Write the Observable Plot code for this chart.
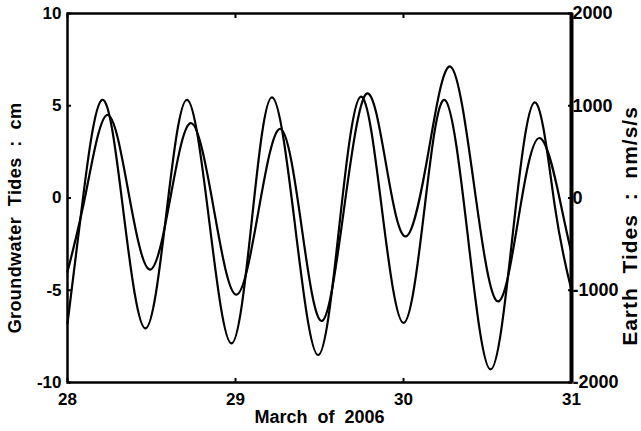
<!DOCTYPE html>
<html>
<head>
<meta charset="utf-8">
<script src="https://cdn.jsdelivr.net/npm/d3@7"></script>
<script src="https://cdn.jsdelivr.net/npm/@observablehq/plot@0.6"></script>
<style>
  html, body { margin: 0; padding: 0; background: #fff; }
  #chart svg { display: block; }
  g[aria-description="left title"] text { letter-spacing: 0.4px; }
  g[aria-description="right title"] text { letter-spacing: 1px; }
</style>
</head>
<body>
<div id="chart"></div>
<script>
// Axis ticks
const xTicks = [28, 29, 30, 31];
const yTicks = [-10, -5, 0, 5, 10];
const earthTicks = [-2000, -1000, 0, 1000, 2000];

// Groundwater tides (cm), day of March 2006
const gwDay = [28.000, 28.110, 28.236, 28.363, 28.490, 28.614, 28.738, 28.871, 29.004, 29.136,
               29.268, 29.392, 29.516, 29.647, 29.777, 29.897, 30.016, 30.149, 30.282, 30.419,
               30.555, 30.683, 30.811, 30.940, 31.000];
const gwCm  = [-4.00, 0.30, 4.50, 0.31, -3.88, 0.09, 4.05, -0.60, -5.24, -0.75,
               3.74, -1.46, -6.66, -0.52, 5.63, 1.78, -2.08, 2.52, 7.11, 0.77,
               -5.58, -1.17, 3.25, -0.50, -3.00];

// Earth tides (nm/s/s), day of March 2006
const etDay = [28.000, 28.080, 28.206, 28.335, 28.464, 28.588, 28.712, 28.844, 28.976, 29.097,
               29.218, 29.355, 29.492, 29.618, 29.745, 29.872, 30.000, 30.123, 30.246, 30.382,
               30.518, 30.649, 30.780, 30.900, 31.000];
const etNms2 = [-1360, -180, 1064, -180, -1414, -176, 1064, -256, -1576, -244,
                1090, -306, -1702, -302, 1098, -128, -1354, -146, 1062, -398,
                -1858, -412, 1036, -80, -1000];

// right axis: 2000 nm/s/s share the height of 10 cm
const cmPerNms2 = 10 / 2000;

const gw = gwDay.map((d, i) => ({day: d, value: gwCm[i]}));
const et = etDay.map((d, i) => ({day: d, value: etNms2[i] * cmPerNms2}));

const font = "'Liberation Sans', Arial, Helvetica, sans-serif";

const chart = Plot.plot({
  width: 641,
  height: 431,
  marginLeft: 67,
  marginRight: 70,
  marginTop: 13,
  marginBottom: 49,
  style: {fontFamily: font, fontWeight: "bold", fontSize: "17px", color: "#000", background: "#fff"},
  x: {domain: [xTicks[0], xTicks[xTicks.length - 1]]},
  y: {domain: [yTicks[0], yTicks[yTicks.length - 1]]},
  marks: [
    Plot.line(et, {x: "day", y: "value", curve: "natural", stroke: "#000", strokeWidth: 2.2}),
    Plot.line(gw, {x: "day", y: "value", curve: "natural", stroke: "#000", strokeWidth: 2.2}),
    Plot.frame({stroke: "#000", strokeWidth: 2.5}),
    Plot.ruleX([xTicks[xTicks.length - 1]], {stroke: "#000", strokeWidth: 4}),

    // inward tick marks on all four sides
    Plot.axisX(xTicks, {anchor: "bottom", tickSize: 4, dy: -4, fill: "none", strokeWidth: 2, label: null}),
    Plot.axisX(xTicks, {anchor: "top", tickSize: 4, dy: 4, fill: "none", strokeWidth: 2, label: null}),
    Plot.axisY(yTicks, {anchor: "left", tickSize: 4, dx: 4, fill: "none", strokeWidth: 2, label: null}),
    Plot.axisY(yTicks, {anchor: "right", tickSize: 4, dx: -4, fill: "none", strokeWidth: 2, label: null}),

    // tick labels
    Plot.axisX(xTicks, {anchor: "bottom", tickSize: 0, tickPadding: 10, stroke: "none",
      tickFormat: d => String(d), label: null}),
    Plot.axisY(yTicks, {anchor: "left", tickSize: 0, tickPadding: 6, stroke: "none",
      tickFormat: d => String(d), label: null}),
    Plot.axisY(earthTicks.map(v => v * cmPerNms2), {anchor: "right", tickSize: 0, tickPadding: 1, stroke: "none",
      fontSize: 18, tickFormat: d => String(Math.round(d / cmPerNms2)), label: null}),

    // axis titles
    Plot.text(["Groundwater  Tides  :  cm"], {frameAnchor: "left", dx: -52, dy: 20, rotate: -90,
      textAnchor: "middle", fontSize: 18, fontWeight: "bold", fill: "#000", ariaDescription: "left title"}),
    Plot.text(["Earth  Tides  :  nm/s/s"], {frameAnchor: "right", dx: 59, dy: 28, rotate: -90,
      textAnchor: "middle", fontSize: 21, fontWeight: "bold", fill: "#000", ariaDescription: "right title"}),
    Plot.text(["March  of  2006"], {frameAnchor: "bottom", dy: 35, lineAnchor: "middle",
      fontSize: 18, fontWeight: "bold", fill: "#000"})
  ]
});

document.getElementById("chart").append(chart);
</script>
</body>
</html>
